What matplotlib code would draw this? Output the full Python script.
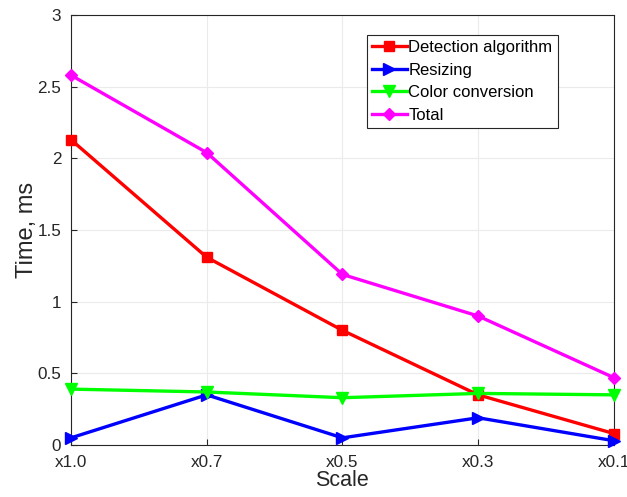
import matplotlib
matplotlib.use('Agg')
import matplotlib.pyplot as plt

plt.rcParams['font.family'] = ['Liberation Sans', 'DejaVu Sans']

scales = ['x1.0', 'x0.7', 'x0.5', 'x0.3', 'x0.1']
detection = [2.13, 1.31, 0.80, 0.35, 0.08]
resizing = [0.05, 0.35, 0.05, 0.19, 0.03]
color_conv = [0.39, 0.37, 0.33, 0.36, 0.35]
total = [2.58, 2.04, 1.19, 0.90, 0.47]

fig = plt.figure(figsize=(6.27, 4.97), dpi=100)
ax = fig.add_axes([0.1132, 0.1046, 0.8658, 0.8652])

x = list(range(len(scales)))
ax.plot(x, detection, color='red', marker='s', markersize=6.5, lw=2.4, label='Detection algorithm', clip_on=False, zorder=3)
ax.plot(x, resizing, color='blue', marker='>', markersize=8.5, lw=2.4, label='Resizing', clip_on=False, zorder=3)
ax.plot(x, color_conv, color='#00ff00', marker='v', markersize=8.5, lw=2.4, label='Color conversion', clip_on=False, zorder=3)
ax.plot(x, total, color='magenta', marker='D', markersize=6.5, lw=2.4, label='Total', clip_on=False, zorder=3)

ax.set_xlim(0, 4)
ax.set_ylim(0, 3)
ax.set_xticks(x)
ax.set_xticklabels(scales)
ax.set_yticks([0, 0.5, 1, 1.5, 2, 2.5, 3])
ax.set_yticklabels(['0', '0.5', '1', '1.5', '2', '2.5', '3'])
ax.tick_params(direction='in', labelsize=12.3, color='#262626', labelcolor='#262626', length=4)
ax.tick_params(axis='x', pad=7)
ax.tick_params(axis='y', pad=7)
ax.grid(True, color='#ebebeb', lw=0.8)
ax.set_axisbelow(True)
for s in ax.spines.values():
    s.set_color('#262626')
    s.set_linewidth(0.8)

ax.set_xlabel('Scale', fontsize=15.5, color='#262626', labelpad=0)
ax.set_ylabel('Time, ms', fontsize=17, color='#262626', labelpad=0)

leg = ax.legend(loc='upper left', bbox_to_anchor=(0.545, 0.953), fontsize=12,
                fancybox=False, framealpha=1, edgecolor='#262626',
                handlelength=2.1, handletextpad=0.1, labelspacing=0.45, borderpad=0.3,
                borderaxespad=0)
leg.get_frame().set_linewidth(0.8)

fig.savefig('out.png')
